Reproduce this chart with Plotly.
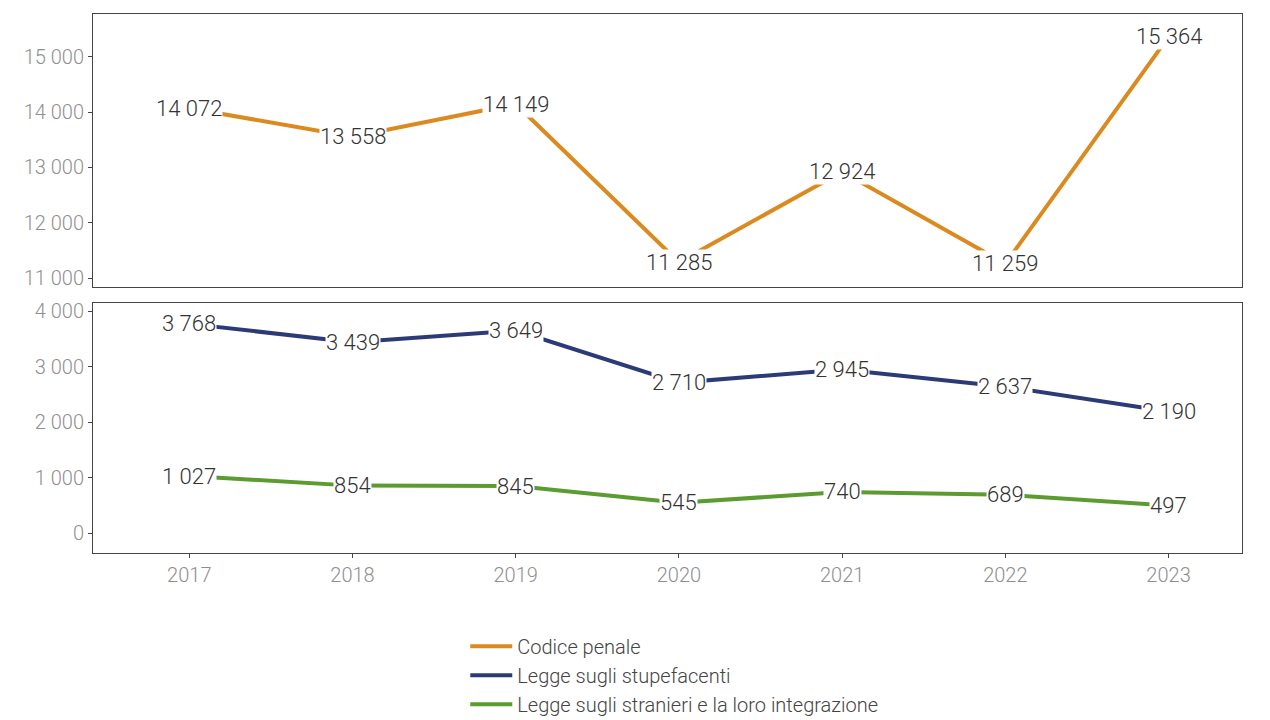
import plotly.graph_objects as go
from plotly.subplots import make_subplots

# data
years = [2017, 2018, 2019, 2020, 2021, 2022, 2023]
codice_penale = [14072, 13558, 14149, 11285, 12924, 11259, 15364]
stupefacenti = [3768, 3439, 3649, 2710, 2945, 2637, 2190]
stranieri = [1027, 854, 845, 545, 740, 689, 497]

series = [
    ('Codice penale', codice_penale, '#DA8A1E', 1),
    ('Legge sugli stupefacenti', stupefacenti, '#2C3B78', 2),
    ('Legge sugli stranieri e la loro integrazione', stranieri, '#5B9B30', 2),
]


def fmt(v):
    return f'{v:,}'.replace(',', ' ')


fig = make_subplots(rows=2, cols=1, shared_xaxes=True, vertical_spacing=0.03)

for name, values, color, row in series:
    fig.add_trace(go.Scatter(
        x=years, y=values, name=name, mode='lines',
        line=dict(color=color, width=4),
    ), row=row, col=1)
    yref = 'y' if row == 1 else 'y2'
    xref = 'x' if row == 1 else 'x2'
    for x, v in zip(years, values):
        fig.add_annotation(
            x=x, y=v, xref=xref, yref=yref, text=fmt(v), showarrow=False,
            bgcolor='white', borderpad=0,
            font=dict(family='Roboto', size=22, color='#333333', weight=300),
        )

axis_style = dict(
    showline=True, linecolor='#444444', linewidth=1, mirror=True,
    showgrid=False, zeroline=False,
    ticks='outside', ticklen=4, tickcolor='#444444',
    tickfont=dict(family='Roboto', size=20, color='#8f8f8f', weight=300),
)

fig.update_xaxes(**axis_style, range=[2016.41, 2023.45], dtick=1)
fig.update_xaxes(showticklabels=False, ticks='', row=1, col=1)
fig.update_yaxes(**axis_style, tickformat=',d', automargin=False)
fig.update_yaxes(range=[10837, 15778], dtick=1000, domain=[0.4935, 1], row=1, col=1)
fig.update_yaxes(range=[-360, 4144], dtick=1000, domain=[0, 0.4638], row=2, col=1)

# page body adds an 8px offset, so the figure is sized to the visible area
fig.update_layout(
    width=1262, height=712,
    margin=dict(l=85, r=28, t=6, b=167, autoexpand=False),
    plot_bgcolor='white', paper_bgcolor='white',
    separators=', ',
    font=dict(family='Roboto', color='#444444'),
    legend=dict(
        x=0.324, xref='paper', y=0.131, yref='container',
        xanchor='left', yanchor='top',
        orientation='v', tracegroupgap=0, itemwidth=42,
        font=dict(family='Roboto', size=20, color='#444444', weight=300),
    ),
)

fig.write_html('out.html')
